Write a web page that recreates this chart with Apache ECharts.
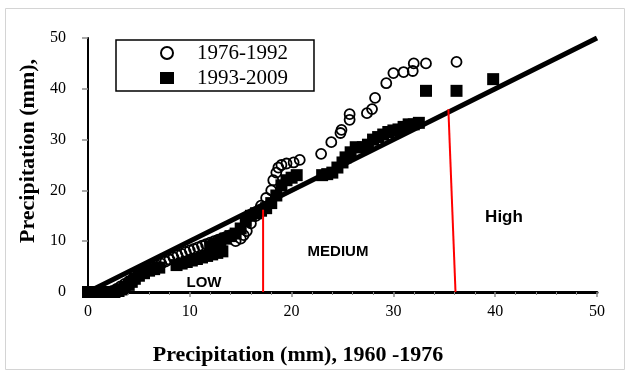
<!DOCTYPE html>
<html>
<head>
<meta charset="utf-8">
<script src="https://cdn.jsdelivr.net/npm/echarts@6/dist/echarts.min.js"></script>
<style>html,body{margin:0;padding:0;background:#fff}#c{width:630px;height:375px}</style>
</head>
<body>
<div id="c"></div>
<script>
// Series names
var seriesNames = ['1976-1992', '1993-2009'];
// Axis ticks
var xTicks = [0, 10, 20, 30, 40, 50];
var yTicks = [0, 10, 20, 30, 40, 50];
// 1976-1992 (open circles): [x, y]
var circles = [
  [0,0],[0.4,0],[0.8,0],[1.2,0],[1.6,0],[2,0],[2.4,0.2],[2.8,0.6],[3.2,1.1],[3.6,1.6],
  [4,2.1],[4.4,2.6],[4.8,3.1],[5.2,3.5],[5.6,3.9],[6,4.3],[6.4,4.8],[6.8,5.2],[7.2,5.6],[7.6,6],
  [8,6.4],[8.4,6.8],[8.8,7.2],[9.2,7.5],[9.6,7.9],[10,8.2],[10.4,8.5],[10.8,8.8],[11.2,9.1],[11.6,9.4],
  [12,9.7],[12.4,10],[12.8,10.3],[13.2,10.6],[13.6,10.9],[14,11.2],[14.5,10],[15,10.5],[15.3,11.2],[15.6,12],
  [16,13.5],[16.5,15],[17,17],[17.5,18.5],[18,20],[18.2,22],[18.5,23.5],[18.7,24.5],[19,25],[19.5,25.3],
  [20.2,25.5],[20.8,26],[22.9,27.2],[23.9,29.5],[24.8,31.3],[24.9,31.9],[25.7,33.9],[25.7,35],[27.4,35.2],[27.9,36],
  [28.2,38.2],[29.3,41.1],[30,43.1],[31,43.3],[31.9,43.5],[32,45],[33.2,45],[36.2,45.3]
];
// 1993-2009 (filled squares): [x, y]
var squares = [
  [0,0],[0.3,0],[0.6,0],[1,0],[1.3,0],[1.6,0],[2,0],[2.3,0],[2.6,0],[3,0.2],
  [3.3,0.5],[3.6,0.9],[4,1.4],[4.3,2],[4.6,2.6],[5,3.2],[5.5,3.7],[6,4.2],[6.5,4.5],[7,4.8],
  [8.7,5.3],[9.2,5.6],[9.7,5.9],[10.2,6.2],[10.7,6.5],[11.2,6.8],[11.7,7.1],[12.2,7.4],[12.7,7.7],[13.2,8],
  [12,9],[12.5,9.5],[13,10],[13.5,10.5],[14,11],[14.5,11.5],[15,12.5],[15.5,14],[16,15],[16.5,15.5],
  [17,16],[17.5,16.5],[18,17.5],[18.5,19],[19,21],[19.5,22],[20,22.5],[20.5,23],[23,23],[23.5,23.2],
  [24,23.5],[24.5,24.5],[25,25.5],[25.3,26.5],[25.8,27.5],[26.3,28.5],[27,28.5],[27.5,29],[28,30],[28.5,30.5],
  [29,31],[29.5,31.5],[30,31.8],[30.5,32],[31,32.5],[31.5,33],[32,33],[32.5,33.3],[33.2,39.6],[36.2,39.6],
  [39.8,41.9]
];
// 1:1 reference line
var oneToOne = [[0,0],[50,50]];
// Class boundaries (red lines)
var boundaryLow = [[17.2,0],[17.2,16.2]];
var boundaryHigh = [[36.1,0],[35.4,36]];

var chart = echarts.init(document.getElementById('c'), null, {renderer:'canvas'});
var serif = '"Liberation Serif","Times New Roman",serif';
var sans = '"Liberation Sans",Arial,sans-serif';
var axisBase = {type:'value', min:0, max:50, interval:10};
chart.setOption({
  animation:false,
  backgroundColor:'#fff',
  grid:{left:88, top:38, width:509, height:254},
  legend:{
    orient:'vertical', left:116, top:40,
    padding:[2,26,2,44], itemGap:3,
    itemWidth:14, itemHeight:12,
    borderColor:'#000', borderWidth:1.5, backgroundColor:'#fff',
    textStyle:{fontFamily:serif, fontSize:21, color:'#000', lineHeight:22, padding:[0,0,0,18]},
    data:[{name:seriesNames[0], icon:'circle'},{name:seriesNames[1], icon:'rect'}]
  },
  xAxis:[
    Object.assign({}, axisBase, {
      position:'bottom',
      axisLine:{lineStyle:{color:'#8c8c8c', width:1.5}},
      axisTick:{length:5, lineStyle:{color:'#8c8c8c', width:1.5}},
      minorTick:{show:true, splitNumber:5, length:3, lineStyle:{color:'#8c8c8c', width:1}},
      splitLine:{show:false},
      axisLabel:{margin:12, fontFamily:serif, fontSize:16, color:'#000',
        formatter:function(v){return xTicks.indexOf(v)>=0?String(v):'';}}
    }),
    Object.assign({}, axisBase, {
      position:'top',
      axisLine:{lineStyle:{color:'#000', width:3}},
      axisTick:{show:false}, axisLabel:{show:false}, splitLine:{show:false}
    })
  ],
  yAxis:[
    Object.assign({}, axisBase, {
      position:'left',
      axisLine:{lineStyle:{color:'#8c8c8c', width:1.5}},
      axisTick:{length:6, lineStyle:{color:'#8c8c8c', width:1.5}},
      splitLine:{show:false},
      axisLabel:{margin:22, fontFamily:serif, fontSize:16, color:'#000',
        formatter:function(v){return yTicks.indexOf(v)>=0?String(v):'';}}
    }),
    Object.assign({}, axisBase, {
      position:'right',
      axisLine:{lineStyle:{color:'#000', width:2}},
      axisTick:{show:false}, axisLabel:{show:false}, splitLine:{show:false}
    })
  ],
  series:[
    {name:seriesNames[1], type:'scatter', data:squares, symbol:'rect', symbolSize:12,
      itemStyle:{color:'#000', opacity:1}, z:2},
    {name:seriesNames[0], type:'scatter', data:circles, symbol:'circle', symbolSize:10,
      itemStyle:{color:'rgba(255,255,255,0)', borderColor:'#000', borderWidth:1.8, opacity:1}, z:3},
    {type:'line', data:oneToOne, showSymbol:false, symbol:'none',
      lineStyle:{color:'#000', width:5}, z:4, silent:true},
    {type:'line', data:boundaryLow, showSymbol:false, symbol:'none',
      lineStyle:{color:'#ff0000', width:2}, z:5, silent:true},
    {type:'line', data:boundaryHigh, showSymbol:false, symbol:'none',
      lineStyle:{color:'#ff0000', width:2}, z:5, silent:true}
  ],
  graphic:[
    {type:'rect', shape:{x:5.5, y:8.5, width:619, height:361}, style:{fill:'none', stroke:'#d4d4d4', lineWidth:1}, z:-1},
    {type:'text', x:204, y:283, style:{text:'LOW', font:'bold 15px '+sans, fill:'#000', align:'center', verticalAlign:'middle'}, z:10},
    {type:'text', x:338, y:252, style:{text:'MEDIUM', font:'bold 15px '+sans, fill:'#000', align:'center', verticalAlign:'middle'}, z:10},
    {type:'text', x:504, y:217, style:{text:'High', font:'bold 17px '+sans, fill:'#000', align:'center', verticalAlign:'middle'}, z:10},
    {type:'text', x:298, y:355, style:{text:'Precipitation (mm), 1960 -1976', font:'bold 22px '+serif, fill:'#000', align:'center', verticalAlign:'middle'}, z:10},
    {type:'text', x:28, y:151, rotation:Math.PI/2, style:{text:'Precipitation (mm),', font:'bold 22px '+serif, fill:'#000', align:'center', verticalAlign:'middle'}, z:10}
  ]
});
</script>
</body>
</html>
